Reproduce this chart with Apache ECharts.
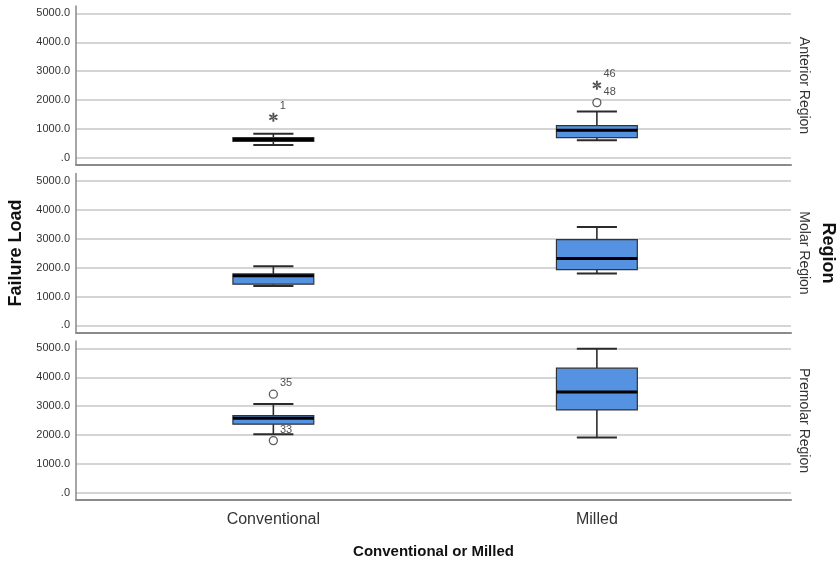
<!DOCTYPE html>
<html>
<head>
<meta charset="utf-8">
<script src="https://cdn.jsdelivr.net/npm/echarts@6/dist/echarts.min.js"></script>
<style>html,body{margin:0;padding:0;background:#fff}#c{width:838px;height:564px}</style>
</head>
<body>
<div id="c"></div>
<script>
// ---- data ----
const categories = ['Conventional', 'Milled'];
const regions = ['Anterior Region', 'Molar Region', 'Premolar Region'];
const yTicks = [0, 1000, 2000, 3000, 4000, 5000];
// [low whisker, Q1, median, Q3, high whisker] per category
const anteriorBox = [[450, 575, 640, 700, 840], [612, 702, 958, 1118, 1602]];
const molarBox = [[1367, 1425, 1720, 1780, 2048], [1792, 1931, 2311, 2969, 3408]];
const premolarBox = [[2031, 2377, 2585, 2675, 3080], [1913, 2872, 3495, 4315, 4983]];
// [category index, value, case label, marker]
const anteriorOutliers = [[0, 1408, '1', 'star'], [1, 2515, '46', 'star'], [1, 1913, '48', 'circle']];
const molarOutliers = [];
const premolarOutliers = [[0, 3415, '35', 'circle'], [0, 1810, '33', 'circle']];

const boxSets = [anteriorBox, molarBox, premolarBox];
const outlierSets = [anteriorOutliers, molarOutliers, premolarOutliers];

// ---- styles ----
const BOX_W = 0.25, CAP_W = 0.124;
const FILL = '#5592e1';
const FONT = '"Liberation Sans", Arial, sans-serif';
const STAR = 'path://M-1,-5L1,-5L1,5L-1,5Z M3.83,3.366L4.83,1.634L-3.83,-3.366L-4.83,-1.634Z M-3.83,3.366L-4.83,1.634L3.83,-3.366L4.83,-1.634Z';

const chart = echarts.init(document.getElementById('c'), null, {renderer: 'canvas'});

const grids = [], xAxes = [], yAxes = [], series = [];
const panelTop = 6, panelH = 159, panelStep = 167.5;

function renderBox(params, api) {
  const x = api.value(0);
  const low = api.coord([x, api.value(1)]);
  const q1 = api.coord([x, api.value(2)]);
  const med = api.coord([x, api.value(3)]);
  const q3 = api.coord([x, api.value(4)]);
  const high = api.coord([x, api.value(5)]);
  const bw = api.size([BOX_W, 0])[0];
  const cw = api.size([CAP_W, 0])[0];
  const cx = q1[0];
  const wStyle = {stroke: '#2b2b2b', lineWidth: 1.6};
  return {
    type: 'group',
    children: [
      {type: 'line', shape: {x1: cx, y1: q3[1], x2: cx, y2: high[1]}, style: wStyle},
      {type: 'line', shape: {x1: cx, y1: q1[1], x2: cx, y2: low[1]}, style: wStyle},
      {type: 'line', shape: {x1: cx - cw / 2, y1: high[1], x2: cx + cw / 2, y2: high[1]}, style: {stroke: '#2b2b2b', lineWidth: 2}},
      {type: 'line', shape: {x1: cx - cw / 2, y1: low[1], x2: cx + cw / 2, y2: low[1]}, style: {stroke: '#2b2b2b', lineWidth: 2}},
      {type: 'rect', shape: {x: cx - bw / 2, y: q3[1], width: bw, height: q1[1] - q3[1]},
        style: {fill: FILL, stroke: '#333', lineWidth: 1.2}},
      {type: 'line', shape: {x1: cx - bw / 2, y1: med[1], x2: cx + bw / 2, y2: med[1]}, style: {stroke: '#000', lineWidth: 3}}
    ]
  };
}

for (let i = 0; i < 3; i++) {
  grids.push({left: 76, right: 47, top: panelTop + i * panelStep, height: panelH, containLabel: false, outerBoundsMode: 'none'});
  const last = i === 2;
  xAxes.push({
    type: 'value', gridIndex: i, min: -0.61, max: 1.6,
    axisLine: {show: true, onZero: false, lineStyle: {color: '#8a8a8a', width: 2}},
    axisTick: {show: false, customValues: [0, 1]},
    splitLine: {show: false},
    axisLabel: {
      show: last, customValues: [0, 1], margin: 12,
      formatter: v => categories[Math.round(v)] || '',
      fontFamily: FONT, fontSize: 16, color: '#333'
    },
    name: last ? 'Conventional or Milled' : '',
    nameLocation: 'middle', nameGap: 44,
    nameTextStyle: {fontFamily: FONT, fontWeight: 'bold', fontSize: 15, color: '#111'}
  });
  yAxes.push({
    type: 'value', gridIndex: i, position: 'left', offset: 0, min: -245, max: 5255,
    axisLine: {show: true, onZero: false, lineStyle: {color: '#8a8a8a', width: 1.5}},
    axisTick: {show: false, customValues: yTicks},
    splitLine: {show: true, lineStyle: {color: '#d5d5d5', width: 2}},
    axisLabel: {
      customValues: yTicks, margin: 6,
      formatter: v => v === 0 ? '.0' : v.toFixed(1),
      fontFamily: FONT, fontSize: 11, color: '#333'
    },
    name: i === 1 ? 'Failure Load' : '',
    nameLocation: 'middle', nameGap: 50, nameRotate: 90,
    nameTextStyle: {fontFamily: FONT, fontWeight: 'bold', fontSize: 18, color: '#111'}
  });
  // right-side facet label
  yAxes.push({
    type: 'value', gridIndex: i, position: 'right', offset: 0, min: -245, max: 5255,
    axisLine: {show: false, onZero: false}, axisTick: {show: false}, axisLabel: {show: false}, splitLine: {show: false},
    name: regions[i], nameLocation: 'middle', nameRotate: -90, nameGap: 6,
    nameTextStyle: {fontFamily: FONT, fontSize: 14, color: '#333'}
  });
  series.push({
    type: 'custom', xAxisIndex: i, yAxisIndex: i * 2,
    renderItem: renderBox, clip: false,
    encode: {x: 0, y: [1, 2, 3, 4, 5]},
    data: boxSets[i].map((b, k) => [k].concat(b)),
    z: 3
  });
  series.push({
    type: 'scatter', xAxisIndex: i, yAxisIndex: i * 2, z: 4,
    data: outlierSets[i].map(o => ({
      value: [o[0], o[1]],
      symbol: o[3] === 'star' ? STAR : 'circle',
      symbolSize: o[3] === 'star' ? [9, 9] : 8,
      itemStyle: o[3] === 'star' ? {color: '#222', borderWidth: 0} : {color: '#fff', borderColor: '#333', borderWidth: 1.3},
      label: {show: true, formatter: o[2]}
    })),
    label: {position: 'right', distance: 2, offset: [0, -11], fontFamily: FONT, fontSize: 11, color: '#222'}
  });
}

chart.setOption({
  animation: false,
  grid: grids, xAxis: xAxes, yAxis: yAxes, series: series,
  graphic: [{
    type: 'text', x: 828, y: 253, rotation: -Math.PI / 2,
    style: {text: 'Region', fontFamily: FONT, fontWeight: 'bold', fontSize: 18, fill: '#111', align: 'center', verticalAlign: 'middle'}
  }]
});
</script>
</body>
</html>
